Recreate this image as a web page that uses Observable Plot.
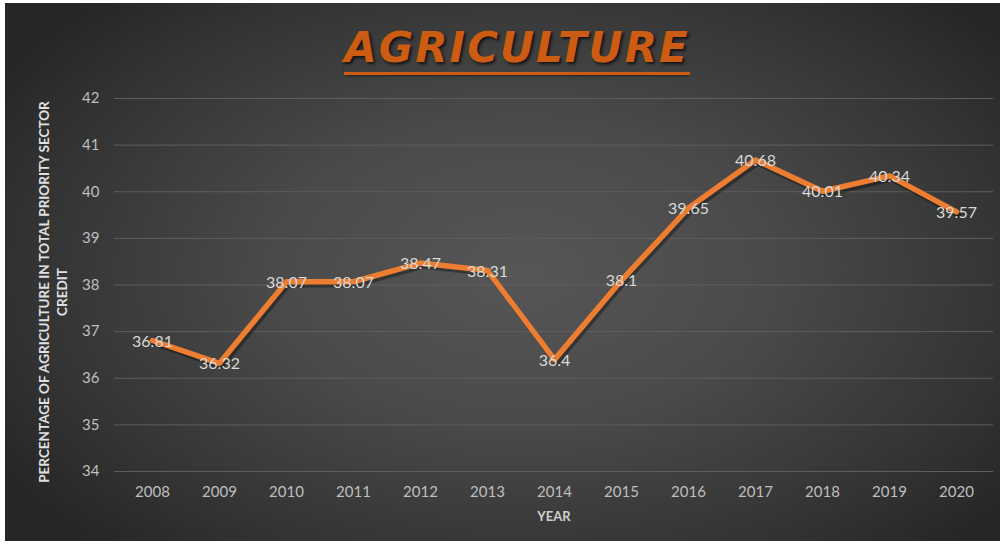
<!DOCTYPE html>
<html>
<head>
<meta charset="utf-8">
<script src="https://cdn.jsdelivr.net/npm/d3@7"></script>
<script src="https://cdn.jsdelivr.net/npm/@observablehq/plot@0.6"></script>
<style>
  html, body { margin: 0; padding: 0; background: #ffffff; }
  #wrap { position: relative; width: 1006px; height: 545px; overflow: hidden; background: #ffffff; }
  #panel { position: absolute; left: 5px; top: 3px; width: 995px; height: 538px;
    background: radial-gradient(ellipse 62% 70% at 52% 50%, #565656 0%, #4a4a4a 40%, #333333 80%, #262626 100%); }
  #chart { position: absolute; left: 0; top: 0; }
  #title { position: absolute; left: 0; width: 1034px; top: 23px; text-align: center;
    font-family: "DejaVu Sans", sans-serif; font-weight: bold; font-style: italic; font-size: 42px;
    color: #cc5c14; letter-spacing: 2px; text-shadow: 2px 2px 3px rgba(0,0,0,0.7); }
  #title span { display: inline-block; border-bottom: 3px solid #cc5c14; line-height: 46px; padding-bottom: 1px;
    box-shadow: 0 2px 2px -1px rgba(0,0,0,0.5); }
</style>
</head>
<body>
<div id="wrap">
  <div id="panel"></div>
  <div id="chart"></div>
  <div id="title"><span>AGRICULTURE</span></div>
</div>
<script>
const years = ["2008","2009","2010","2011","2012","2013","2014","2015","2016","2017","2018","2019","2020"];
const values = [36.81, 36.32, 38.07, 38.07, 38.47, 38.31, 36.4, 38.1, 39.65, 40.68, 40.01, 40.34, 39.57];
const yTicks = [34, 35, 36, 37, 38, 39, 40, 41, 42];
const yLabel = "PERCENTAGE OF AGRICULTURE IN TOTAL PRIORITY SECTOR\nCREDIT";
const xLabel = "YEAR";

const data = years.map((y, i) => ({year: y, value: values[i]}));

const chart = Plot.plot({
  width: 1006,
  height: 545,
  marginLeft: 114,
  marginRight: 13,
  marginTop: 98,
  marginBottom: 74,
  style: {background: "transparent", fontFamily: "Lato, 'Open Sans', sans-serif"},
  x: {type: "point", domain: years, padding: 0.5, label: null},
  y: {domain: [34, 42], ticks: yTicks, label: null},
  marks: [
    Plot.ruleY(yTicks, {stroke: "#5e5e5e", strokeWidth: 1}),
    Plot.axisY({ticks: yTicks, tickSize: 0, tickPadding: 15, fontSize: 15, color: "#bfbfbf", label: null}),
    Plot.axisX({tickSize: 0, tickPadding: 15, fontSize: 15, color: "#bfbfbf", label: null}),
    Plot.text([xLabel], {frameAnchor: "bottom", dy: 45, fontSize: 13, fontWeight: "bold", fill: "#d0d0d0", lineAnchor: "middle"}),
    Plot.text([yLabel], {frameAnchor: "left", rotate: -90, dx: -62, dy: 7, textAnchor: "middle", fontSize: 13.5, fontWeight: "bold", fill: "#e0e0e0", lineAnchor: "middle", lineHeight: 1.3}),
    Plot.line(data, {x: "year", y: "value", stroke: "#000000", strokeOpacity: 0.35, strokeWidth: 5.5, dx: 2, dy: 3, strokeLinejoin: "round", strokeLinecap: "round"}),
    Plot.line(data, {x: "year", y: "value", stroke: "#ed7d31", strokeWidth: 5.5, strokeLinejoin: "round", strokeLinecap: "round"}),
    Plot.text(data, {x: "year", y: "value", text: d => String(d.value), fill: "#d9d9d9", fontSize: 16, lineAnchor: "middle", dy: 1})
  ]
});
document.getElementById("chart").appendChild(chart);
</script>
</body>
</html>
